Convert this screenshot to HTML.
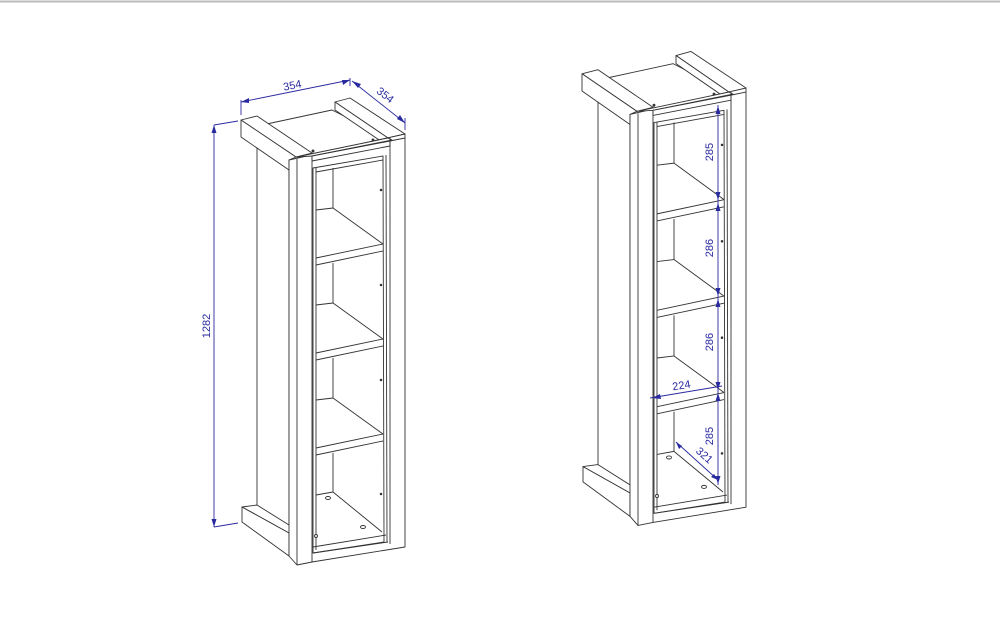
<!DOCTYPE html>
<html><head><meta charset="utf-8"><style>
html,body{margin:0;padding:0;background:#fff;}
svg{display:block;}
text{font-family:"Liberation Sans",sans-serif;font-size:11px;fill:#2a2aa0;}
</style></head><body>
<svg width="1000" height="638" viewBox="0 0 1000 638" xmlns="http://www.w3.org/2000/svg">
<rect width="1000" height="638" fill="#fff"/>
<line x1="0" y1="1.5" x2="1000" y2="1.5" stroke="#bbb" stroke-width="2"/>
<defs>
<g id="cab" fill="#fff" stroke="#333" stroke-width="0.9" stroke-linejoin="round">
  <polygon points="262,125 332,110 392,140 300,158"/>
  <polygon points="335,102 350,98 405,134 388,138"/>
  <polygon points="335,102 335,110 388,146 388,138"/>
  <polygon points="257,148 289,165 289,545 257,505"/>
  <polygon points="242,507 257,505 297,530 289,533"/>
  <polygon points="242,507 289,533 289,556 242,522"/>
  <polygon points="241,120 257,116 312,153 296,157"/>
  <polygon points="241,120 296,157 289,160 289,170 241,137"/>
  <polygon points="289,160 311,155 405,134 405,547 312,562 297,565 289,556"/>
  <line x1="297" y1="159" x2="297" y2="565"/>
  <line x1="312" y1="156" x2="312" y2="562"/>
  <!-- top plate -->
  <polygon points="296,157 388,138 392,140 312,156"/>
  <polygon points="312,156 390,141 390,146 312,161"/>
  <line x1="390" y1="141" x2="405" y2="138"/>
  <line x1="390" y1="138" x2="390" y2="146"/>
  <!-- opening -->
  <polygon points="313,168 383,156 384,542 313,553" fill="#fff"/>
  <line x1="386" y1="155" x2="387" y2="542"/>
  <line x1="390" y1="146" x2="390" y2="544"/>
  <line x1="313" y1="553" x2="388" y2="542"/>
  <line x1="313" y1="547" x2="386" y2="535"/>
  <line x1="316" y1="168" x2="316" y2="550"/>
  <line x1="316" y1="172" x2="383" y2="160"/>
  <g id="comp">
    <line x1="333" y1="168" x2="333" y2="208"/>
    <line x1="316" y1="210" x2="333" y2="208"/>
    <line x1="333" y1="208" x2="383" y2="244"/>
    <line x1="316" y1="258" x2="383" y2="244"/>
    <line x1="316" y1="265" x2="383" y2="251"/>
  </g>
  <use href="#comp" transform="translate(0,95)"/>
  <use href="#comp" transform="translate(0,190)"/>
  <line x1="333" y1="453" x2="333" y2="492"/>
  <line x1="316" y1="495" x2="333" y2="492"/>
  <line x1="333" y1="492" x2="382" y2="532"/>
  <circle cx="313" cy="151" r="1" fill="#333"/>
  <circle cx="373" cy="140" r="1" fill="#333"/>
  <circle cx="381" cy="190" r="0.8" fill="#333"/>
  <circle cx="381" cy="285" r="0.8" fill="#333"/>
  <circle cx="381" cy="380" r="0.8" fill="#333"/>
  <circle cx="381" cy="494" r="0.8" fill="#333"/>
  <ellipse cx="328" cy="498" rx="2.5" ry="1.5"/>
  <ellipse cx="363" cy="527" rx="2.5" ry="1.5"/>
  <ellipse cx="316" cy="536" rx="1.5" ry="1.5"/>
</g>
</defs>
<use href="#cab"/>
<use href="#cab" transform="translate(341,-48) scale(1,1.015)"/>

<g stroke="#2a2aa0" stroke-width="0.9" fill="#2a2aa0">
  <line x1="241" y1="100" x2="241" y2="115"/>
  <line x1="241" y1="102" x2="350" y2="80"/>
  <line x1="350" y1="78" x2="350" y2="86"/>
  <line x1="352" y1="81" x2="405" y2="123"/>
  <line x1="405" y1="118" x2="405" y2="130"/>
  <line x1="214" y1="125" x2="214" y2="527"/>
  <line x1="214" y1="125" x2="238" y2="121"/>
  <line x1="214" y1="527" x2="238" y2="523"/>
  <polygon points="214,125 211.5,133 216.5,133" stroke="none"/>
  <polygon points="214,527 211.5,519 216.5,519" stroke="none"/>
  <polygon points="241,102 249,98 249,103" stroke="none"/>
  <polygon points="350,80 342,80 343,85" stroke="none"/>
  <polygon points="352,81 358,88 361,84" stroke="none"/>
  <polygon points="405,123 397,119 400,115" stroke="none"/>
  <line x1="718" y1="105" x2="718" y2="485"/>
  <polygon points="718,106 715.5,114 720.5,114" stroke="none"/>
  <polygon points="718,200 715.5,192 720.5,192" stroke="none"/>
  <polygon points="718,203 715.5,211 720.5,211" stroke="none"/>
  <polygon points="718,296 715.5,288 720.5,288" stroke="none"/>
  <polygon points="718,299 715.5,307 720.5,307" stroke="none"/>
  <polygon points="718,390 715.5,382 720.5,382" stroke="none"/>
  <polygon points="718,393 715.5,401 720.5,401" stroke="none"/>
  <polygon points="718,484 715.5,476 720.5,476" stroke="none"/>
  <line x1="650" y1="398" x2="722" y2="386"/>
  <polygon points="652,398 660,394 661,399" stroke="none"/>
  <line x1="676" y1="442" x2="718" y2="480"/>
  <polygon points="676,442 679,449 682,446" stroke="none"/>
  <polygon points="718,480 711,477 714,474" stroke="none"/>
</g>
<text x="293" y="89" transform="rotate(-11 293 89)" text-anchor="middle">354</text>
<text x="383" y="98" transform="rotate(38 383 98)" text-anchor="middle">354</text>
<text x="210" y="326" transform="rotate(-90 210 326)" text-anchor="middle">1282</text>
<text x="713" y="152" transform="rotate(-90 713 152)" text-anchor="middle">285</text>
<text x="713" y="248" transform="rotate(-90 713 248)" text-anchor="middle">286</text>
<text x="713" y="342" transform="rotate(-90 713 342)" text-anchor="middle">286</text>
<text x="713" y="436" transform="rotate(-90 713 436)" text-anchor="middle">285</text>
<text x="682" y="389" transform="rotate(-9 682 389)" text-anchor="middle">224</text>
<text x="702" y="458" transform="rotate(42 702 458)" text-anchor="middle">321</text>
</svg>
</body></html>
